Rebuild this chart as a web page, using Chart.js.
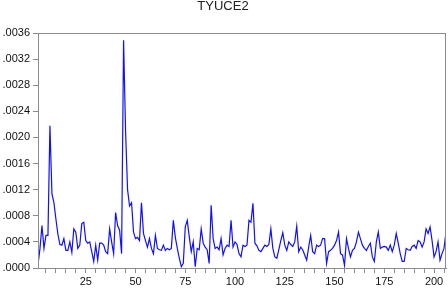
<html lang="en">
<head>
    <meta charset="UTF-8">
    <title>TYUCE2</title>
    <script src="https://cdn.jsdelivr.net/npm/chart.js@4.4.0/dist/chart.umd.min.js"></script>
    <style>
        body { margin: 0; background: #fff; }
        #wrap { width: 448px; height: 288px; }
    </style>
</head>
<body>
<div id="wrap"><canvas id="chart" width="448" height="288"></canvas></div>
<script>
const tyuce2 = [
    0.00005, 0.0003, 0.00065, 0.0003, 0.0005, 0.0005, 0.00218, 0.00114, 0.001, 0.00075,
    0.00052, 0.00036, 0.00035, 0.00045, 0.00027, 0.00027, 0.0004, 0.00024, 0.0006, 0.00055,
    0.0003, 0.00035, 0.00068, 0.0007, 0.00042, 0.00038, 0.0004, 0.00025, 0.0001, 0.00035,
    0.00012, 0.00038, 0.00038, 0.00035, 0.00025, 0.00022, 0.0006, 0.0004, 0.00022, 0.00085,
    0.00065, 0.00058, 0.00022, 0.00349, 0.0021, 0.0012, 0.00095, 0.001, 0.00055, 0.00045,
    0.00047, 0.00042, 0.001, 0.00053, 0.00042, 0.00032, 0.00045, 0.0003, 0.00022, 0.0005,
    0.0003, 0.00028, 0.00027, 0.00035, 0.00027, 0.0003, 0.00028, 0.0003, 0.00073, 0.00047,
    0.0003, 0.00015, 0.00002, 0.00007, 0.00063, 0.00073, 0.00048, 0.00025, 0.0004, 0.00002,
    0.0003, 0.00028, 0.0006, 0.00038, 0.00032, 0.00028, 0.00007, 0.00096, 0.00045, 0.0003,
    0.00032, 0.00028, 0.00045, 0.0002, 0.0003, 0.00035, 0.00033, 0.00073, 0.00032, 0.0004,
    0.00036, 0.00022, 0.00017, 0.00035, 0.00033, 0.00035, 0.00073, 0.0007, 0.00099, 0.00038,
    0.00034, 0.00027, 0.00025, 0.0003, 0.00035, 0.00033, 0.00036, 0.0006, 0.0003, 0.00017,
    0.00015, 0.00028, 0.00042, 0.00054, 0.00035, 0.00027, 0.0004, 0.00036, 0.00033, 0.0004,
    0.00064, 0.00025, 0.00032, 0.00028, 0.0002, 0.00012, 0.00032, 0.0005, 0.00025, 0.00022,
    0.00035, 0.00033, 0.00035, 0.00045, 0.00045, 0.00007, 0.00025, 0.00027, 0.0003, 0.00035,
    0.00042, 0.00055, 0.00022, 0.0002, 0.00004, 0.00045, 0.0003, 0.00017, 0.00027, 0.0003,
    0.0004, 0.00055, 0.00045, 0.00035, 0.0003, 0.00027, 0.00033, 0.00038, 0.00017, 0.0001,
    0.0004, 0.00055, 0.0003, 0.00032, 0.00033, 0.00032, 0.00027, 0.00035, 0.00025, 0.00035,
    0.00053, 0.00038, 0.00022, 0.0001, 0.0001, 0.0003, 0.00028, 0.00027, 0.00033, 0.00035,
    0.0003, 0.00042, 0.0004, 0.00032, 0.0004, 0.0006, 0.00053, 0.00063, 0.00042, 0.00017,
    0.00025, 0.0004, 0.00012, 0.00022, 0.0003, 0.00055
];
const obs = tyuce2.map((v, i) => i + 1);

const yTicks = [0, 0.0004, 0.0008, 0.0012, 0.0016, 0.0020, 0.0024, 0.0028, 0.0032, 0.0036];
const yLabels = ['.0000', '.0004', '.0008', '.0012', '.0016', '.0020', '.0024', '.0028', '.0032', '.0036'];
const xTicks = [];
for (let v = 5; v <= 205; v += 5) xTicks.push(v);
const xLabels = [25, 50, 75, 100, 125, 150, 175, 200];

const boxPlugin = {
    id: 'box',
    afterDraw(chart) {
        const a = chart.chartArea;
        const ctx = chart.ctx;
        ctx.save();
        ctx.strokeStyle = '#8c8c8c';
        ctx.lineWidth = 1;
        ctx.strokeRect(Math.round(a.left) + 0.5, Math.round(a.top) + 0.5,
            Math.round(a.right - a.left) - 1, Math.round(a.bottom - a.top));
        ctx.restore();
    }
};

const ctx = document.getElementById('chart').getContext('2d');
new Chart(ctx, {
    type: 'line',
    data: {
        labels: obs,
        datasets: [{
            label: 'TYUCE2',
            data: tyuce2.map((v, i) => ({ x: obs[i], y: v })),
            borderColor: '#1010ff',
            borderWidth: 1.2,
            pointRadius: 0,
            tension: 0,
            fill: false
        }]
    },
    plugins: [boxPlugin],
    options: {
        responsive: false,
        animation: false,
        layout: { padding: { left: 0, right: 2, top: 0, bottom: 0 } },
        plugins: {
            legend: { display: false },
            tooltip: { enabled: false },
            title: {
                display: true,
                text: 'TYUCE2',
                color: '#222',
                font: { family: 'Liberation Sans', size: 13, weight: 'normal', lineHeight: 1 },
                padding: { top: 0, bottom: 20 }
            }
        },
        scales: {
            x: {
                type: 'linear',
                min: 1,
                max: 206,
                afterBuildTicks: s => { s.ticks = xTicks.map(v => ({ value: v })); },
                afterFit: s => { s.height = 20; },
                grid: { display: true, drawOnChartArea: false, drawTicks: true, tickLength: 5, color: '#8c8c8c' },
                border: { display: true, color: '#8c8c8c' },
                ticks: {
                    autoSkip: false,
                    maxRotation: 0,
                    padding: 2,
                    color: '#111',
                    font: { family: 'Liberation Sans', size: 11 },
                    callback: v => xLabels.includes(v) ? String(v) : ''
                }
            },
            y: {
                min: 0,
                max: 0.0036,
                afterBuildTicks: s => { s.ticks = yTicks.map(v => ({ value: v })); },
                afterFit: s => { s.width = 38; },
                grid: { display: true, drawOnChartArea: false, drawTicks: true, tickLength: 5, color: '#8c8c8c' },
                border: { display: true, color: '#8c8c8c' },
                ticks: {
                    padding: 3,
                    color: '#111',
                    font: { family: 'Liberation Sans', size: 11 },
                    callback: (v, i) => yLabels[i]
                }
            }
        }
    }
});
</script>
</body>
</html>
